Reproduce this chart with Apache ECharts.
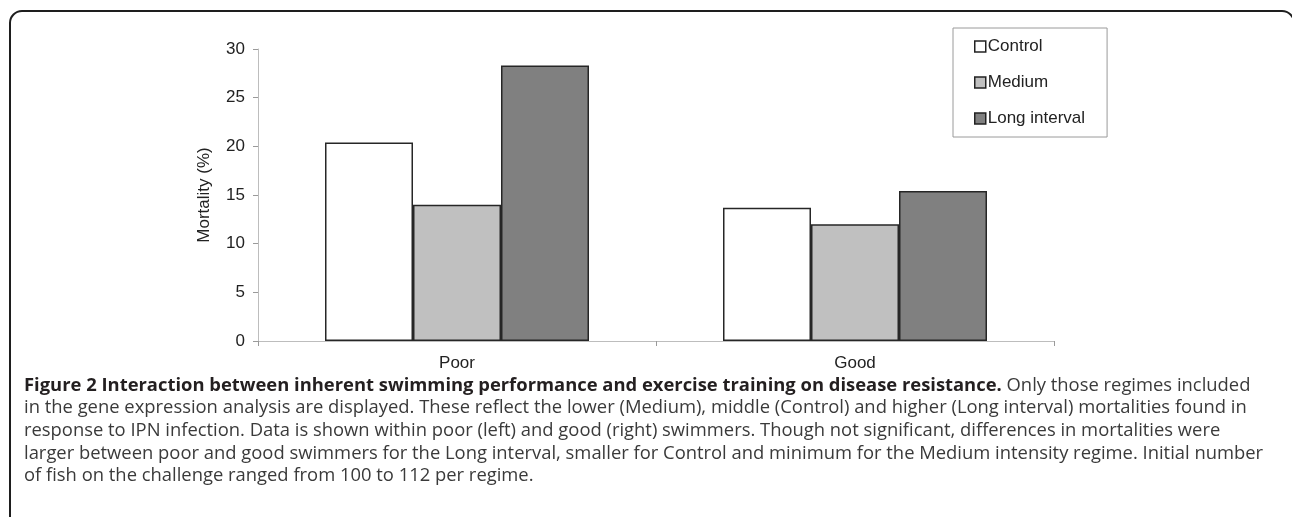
<!DOCTYPE html>
<html>
<head>
<meta charset="utf-8">
<script src="https://cdn.jsdelivr.net/npm/echarts@6/dist/echarts.min.js"></script>
<style>
  html, body { margin: 0; padding: 0; background: #fff; }
  #chart { width: 1292px; height: 517px; }
</style>
</head>
<body>
<div id="chart"></div>
<script>
// ---- data ----
const categories = ['Poor', 'Good'];
const seriesNames = ['Control', 'Medium', 'Long interval'];
const controlValues = [20.4, 13.7];
const mediumValues = [14.0, 12.0];
const longIntervalValues = [28.3, 15.4];
const yTicks = { min: 0, max: 30, interval: 5 };
const yAxisTitle = 'Mortality (%)';
const captionBold = 'Figure 2 Interaction between inherent swimming performance and exercise training on disease resistance.';
const captionLines = [
  ' Only those regimes included',
  'in the gene expression analysis are displayed. These reflect the lower (Medium), middle (Control) and higher (Long interval) mortalities found in',
  'response to IPN infection. Data is shown within poor (left) and good (right) swimmers. Though not significant, differences in mortalities were',
  'larger between poor and good swimmers for the Long interval, smaller for Control and minimum for the Medium intensity regime. Initial number',
  'of fish on the challenge ranged from 100 to 112 per regime.'
];

// ---- chart ----
const chart = echarts.init(document.getElementById('chart'), null, { renderer: 'canvas' });
const fills = ['#ffffff', '#c0c0c0', '#808080'];
const valuesList = [controlValues, mediumValues, longIntervalValues];
const axisFont = 'Liberation Sans, Arial, sans-serif';
const capFont = '"Open Sans", "Noto Sans", sans-serif';
const capSize = 18.4;

const captionGraphics = captionLines.map((line, i) => {
  const y = 385.5 + i * 22.6;
  if (i === 0) {
    return {
      type: 'text', silent: true,
      style: {
        x: 24, y: y, verticalAlign: 'middle',
        text: '{b|' + captionBold + '}{r|' + line + '}',
        rich: {
          b: { fontFamily: capFont, fontSize: capSize, fontWeight: 'bold', fill: '#231f20' },
          r: { fontFamily: capFont, fontSize: capSize, fontWeight: 'normal', fill: '#3a3a3a' }
        }
      }
    };
  }
  return {
    type: 'text', silent: true,
    style: { x: 24, y: y, verticalAlign: 'middle', text: line, fontFamily: capFont, fontSize: capSize, fill: '#3a3a3a' }
  };
});

const option = {
  animation: false,
  backgroundColor: '#ffffff',
  grid: { left: 258, top: 49, right: 238, bottom: 176, containLabel: false },
  legend: {
    orient: 'vertical',
    left: 953, top: 28,
    data: seriesNames,
    icon: 'rect',
    itemWidth: 11, itemHeight: 11, itemGap: 19,
    padding: [10, 22, 10, 21],
    borderColor: '#9a9a9a', borderWidth: 1,
    itemStyle: { borderColor: '#222', borderWidth: 1.5 },
    textStyle: { fontFamily: axisFont, fontSize: 17, color: '#222', padding: [0, 0, 0, -3] }
  },
  xAxis: {
    type: 'category',
    data: categories,
    axisLine: { lineStyle: { color: '#bdbdbd', width: 1 } },
    axisTick: { show: true, length: 5, lineStyle: { color: '#9a9a9a' } },
    axisLabel: { fontFamily: axisFont, fontSize: 17, color: '#222', margin: 14 }
  },
  yAxis: {
    type: 'value',
    min: yTicks.min, max: yTicks.max, interval: yTicks.interval,
    name: yAxisTitle, nameLocation: 'middle', nameGap: 45,
    nameTextStyle: { fontFamily: axisFont, fontSize: 17, color: '#222' },
    axisLine: { show: true, lineStyle: { color: '#bdbdbd', width: 1 } },
    axisTick: { show: true, length: 5, lineStyle: { color: '#9a9a9a' } },
    axisLabel: { fontFamily: axisFont, fontSize: 17, color: '#222', margin: 13 },
    splitLine: { show: false }
  },
  series: seriesNames.map((name, i) => ({
    name, type: 'bar', data: valuesList[i],
    barWidth: 88, barGap: '0%',
    itemStyle: { color: fills[i], borderColor: '#262626', borderWidth: 1.5 }
  })),
  graphic: [
    {
      type: 'rect', silent: true, z: 100,
      shape: { x: 10, y: 11, width: 1284, height: 620, r: 12 },
      style: { fill: 'none', stroke: '#1e1e1e', lineWidth: 2 }
    }
  ].concat(captionGraphics)
};
chart.setOption(option);
</script>
</body>
</html>
